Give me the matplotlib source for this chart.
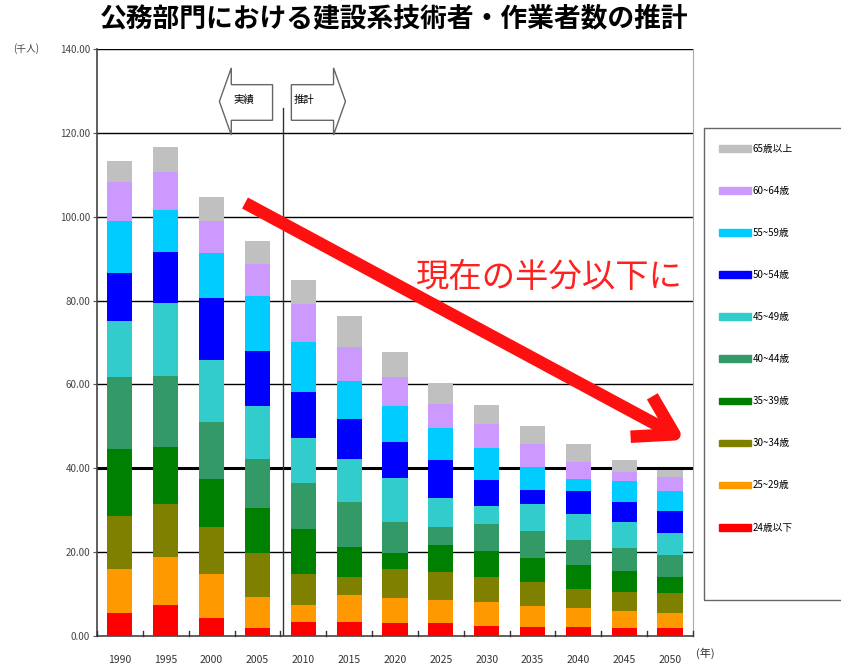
import numpy as np
import matplotlib.pyplot as plt
from matplotlib.patches import Polygon, Rectangle

plt.rcParams['font.family'] = ['Noto Sans CJK JP', 'DejaVu Sans']

# --- data (thousand persons) ---
years = ['1990', '1995', '2000', '2005', '2010', '2015', '2020',
         '2025', '2030', '2035', '2040', '2045', '2050']
age_labels = ['24歳以下', '25~29歳', '30~34歳', '35~39歳', '40~44歳',
              '45~49歳', '50~54歳', '55~59歳', '60~64歳', '65歳以上']
u24 = [5.4, 7.4, 4.2, 1.8, 3.4, 3.4, 3.0, 3.0, 2.5, 2.2, 2.1, 2.0, 1.8]
a25 = [10.7, 11.5, 10.7, 7.4, 4.0, 6.4, 6.1, 5.7, 5.7, 4.9, 4.5, 4.0, 3.8]
a30 = [12.5, 12.5, 11.1, 10.6, 7.5, 4.2, 6.9, 6.6, 5.9, 5.8, 4.7, 4.5, 4.6]
a35 = [16.1, 13.7, 11.5, 10.8, 10.7, 7.3, 3.9, 6.5, 6.2, 5.8, 5.6, 5.0, 3.9]
a40 = [17.0, 17.0, 13.5, 11.5, 10.8, 10.7, 7.2, 4.2, 6.5, 6.4, 6.1, 5.4, 5.2]
a45 = [13.5, 17.3, 14.9, 12.7, 10.8, 10.1, 10.7, 6.8, 4.2, 6.3, 6.2, 6.2, 5.3]
a50 = [11.3, 12.3, 14.7, 13.1, 11.1, 9.7, 8.5, 9.1, 6.1, 3.5, 5.3, 4.9, 5.2]
a55 = [12.5, 10.0, 10.7, 13.1, 11.8, 9.0, 8.5, 7.7, 7.8, 5.4, 3.0, 5.0, 4.7]
a60 = [9.3, 8.9, 7.7, 7.7, 9.1, 8.2, 6.9, 5.8, 5.7, 5.4, 4.0, 2.1, 3.4]
o65 = [4.9, 6.1, 5.8, 5.4, 5.6, 7.3, 6.0, 5.0, 4.6, 4.4, 4.2, 2.8, 1.6]
series = [u24, a25, a30, a35, a40, a45, a50, a55, a60, o65]
colors = ['#FF0000', '#FF9900', '#808000', '#008000', '#339966',
          '#33CCCC', '#0000FF', '#00CCFF', '#CC99FF', '#C0C0C0']
yticks = [0, 20, 40, 60, 80, 100, 120, 140]

fig = plt.figure(figsize=(8.41, 6.68), dpi=100)
ax = fig.add_axes([0.1153, 0.0479, 0.7087, 0.8787])

x = np.arange(len(years))
bottom = np.zeros(len(years))
for vals, c in zip(series, colors):
    ax.bar(x, vals, width=0.55, bottom=bottom, color=c, zorder=3)
    bottom += np.array(vals)

ax.set_xlim(-0.5, len(years) - 0.5)
ax.set_ylim(0, 140)
ax.set_yticks(yticks)
ax.set_yticklabels([f'{v:.2f}' for v in yticks], fontsize=7, color='#444444')
ax.set_xticks(x)
ax.set_xticklabels(years, fontsize=7.5, color='#333333')
ax.tick_params(axis='x', length=0, pad=14)
ax.tick_params(axis='y', length=3, color='#555555', pad=2)
# small inward ticks between categories
for b in np.arange(-0.5, len(years), 1.0):
    ax.plot([b, b], [0, 1.2], color='#333333', lw=1, zorder=4, clip_on=False)

for v in yticks[1:]:
    ax.axhline(v, color='black', lw=2.2 if v == 40 else 1.0, zorder=1)

for s in ['left', 'bottom']:
    ax.spines[s].set_color('#444444')
    ax.spines[s].set_linewidth(1.2)
ax.spines['top'].set_visible(False)
ax.spines['right'].set_color('#aaaaaa')
ax.spines['right'].set_linewidth(0.8)

# divider between actual and forecast
ax.plot([3.55, 3.55], [0, 126], color='#333333', lw=1, zorder=4)

# 実績 / 推計 arrow boxes
left_box = Polygon([(3.33, 131.5), (2.43, 131.5), (2.43, 135.5), (2.17, 127.5),
                    (2.43, 119.5), (2.43, 123.0), (3.33, 123.0)],
                   closed=True, fill=False, edgecolor='#666666', lw=1.0, zorder=5)
right_box = Polygon([(3.74, 131.5), (4.66, 131.5), (4.66, 135.5), (4.92, 127.5),
                     (4.66, 119.5), (4.66, 123.0), (3.74, 123.0)],
                    closed=True, fill=False, edgecolor='#666666', lw=1.0, zorder=5)
ax.add_patch(left_box)
ax.add_patch(right_box)
ax.text(2.47, 127.8, '実績', fontsize=7.5, ha='left', va='center', zorder=6)
ax.text(3.8, 127.8, '推計', fontsize=7.5, ha='left', va='center', zorder=6)

# big red arrow (figure pixels)
ax.annotate('', xy=(685, 228), xytext=(245, 465), xycoords='figure pixels',
            textcoords='figure pixels',
            arrowprops=dict(arrowstyle='->,head_length=0.9,head_width=0.55',
                            color='#FF1010', lw=9, mutation_scale=30,
                            shrinkA=0, shrinkB=0, capstyle='butt'),
            zorder=6)
ax.text(9.37, 85.5, '現在の半分以下に', color='#FF2020', fontsize=24,
        ha='center', va='center', zorder=7)

# axis unit labels
fig.text(0.016, 0.9266, '(千人)', fontsize=7, color='#444444', va='center')
fig.text(0.828, 0.022, '(年)', fontsize=8, color='#333333', va='center')

# title
fig.text(0.119, 0.973, '公務部門における建設系技術者・作業者数の推計',
         fontsize=19.3, fontweight='bold', ha='left', va='center')

# legend (frame drawn separately so it reaches the lower edge like the original)
fig.add_artist(Rectangle((704 / 841, 68 / 668), 0.2, 472 / 668,
                         transform=fig.transFigure, fill=False,
                         edgecolor='#666666', lw=1.0))
handles = [Rectangle((0, 0), 1, 1, color=c) for c in colors][::-1]
leg = fig.legend(handles, age_labels[::-1], loc='upper left',
                 bbox_to_anchor=(0.837, 0.808), frameon=False,
                 fontsize=7, handlelength=3.2, handleheight=0.7,
                 handletextpad=0.2, labelspacing=3.3, borderpad=1.6,
                 borderaxespad=0)

fig.savefig('out.png', dpi=100)
